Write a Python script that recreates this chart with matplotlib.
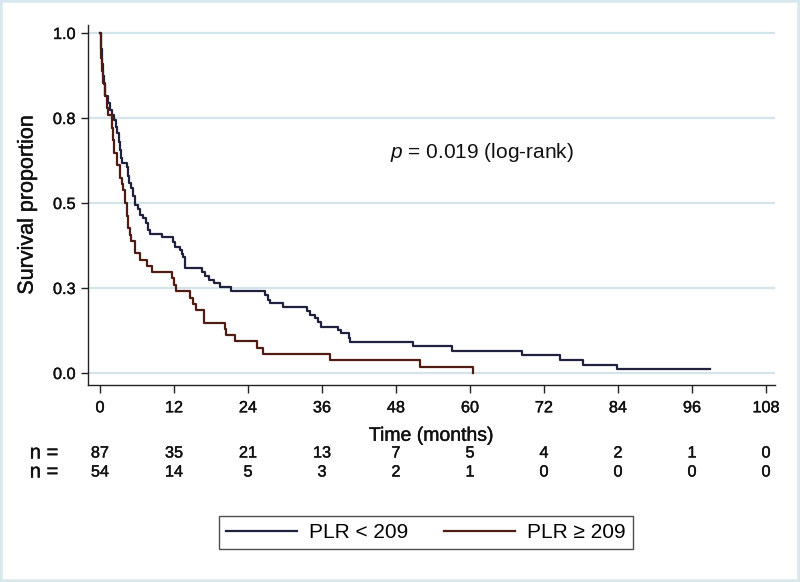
import matplotlib
matplotlib.use("Agg")
import matplotlib.pyplot as plt
from matplotlib.patches import Rectangle
from matplotlib.lines import Line2D
from matplotlib.transforms import blended_transform_factory
import matplotlib.patheffects as pe

plt.rcParams['font.family'] = ['Liberation Sans', 'DejaVu Sans']
plt.rcParams['mathtext.fontset'] = 'custom'
plt.rcParams['mathtext.it'] = 'Liberation Sans:italic'
plt.rcParams['mathtext.rm'] = 'Liberation Sans'

# ---- data ----
low_times = [0.0, 0.1, 0.2, 0.3, 0.4, 0.5, 0.6, 0.8, 1.3, 1.6, 2.0, 2.3, 2.6, 2.8,
             3.0, 3.2, 3.4, 3.6, 4.3, 4.5, 4.7, 5.1, 5.4, 5.7, 6.1, 6.5, 7.0, 7.5,
             7.8, 8.1, 10.0, 11.9, 12.2, 13.0, 13.3, 13.5, 13.8, 16.5, 17.0, 17.6,
             18.5, 19.5, 21.3, 26.8, 27.3, 27.6, 29.6, 33.5, 34.0, 34.9, 35.4, 35.9,
             38.6, 39.0, 40.3, 40.6, 50.8, 57.0, 68.5, 74.6, 78.4, 83.9, 98.9]
low_surv = [1.0, 0.977, 0.954, 0.931, 0.908, 0.874, 0.851, 0.816, 0.793, 0.774, 0.758,
            0.744, 0.724, 0.705, 0.678, 0.655, 0.632, 0.617, 0.605, 0.580, 0.558, 0.545,
            0.520, 0.494, 0.482, 0.465, 0.455, 0.440, 0.420, 0.408, 0.399, 0.386, 0.372,
            0.362, 0.350, 0.342, 0.308, 0.297, 0.285, 0.274, 0.264, 0.252, 0.240, 0.228,
            0.216, 0.205, 0.195, 0.182, 0.171, 0.161, 0.149, 0.136, 0.126, 0.117, 0.104,
            0.090, 0.078, 0.065, 0.052, 0.038, 0.025, 0.011, 0.011]

high_times = [0.0, 0.1, 0.2, 0.3, 0.5, 0.8, 1.1, 1.35, 1.9, 2.1, 2.2, 2.7, 3.2, 3.6,
              3.8, 4.1, 4.3, 4.6, 4.8, 5.1, 5.7, 6.5, 7.6, 8.4, 11.6, 12.0, 12.3, 14.6,
              15.1, 15.5, 16.8, 16.9, 20.3, 20.4, 21.9, 25.4, 26.5, 37.3, 51.9, 60.5]
high_surv = [1.0, 0.963, 0.926, 0.889, 0.852, 0.815, 0.778, 0.759, 0.722, 0.685, 0.648,
             0.611, 0.574, 0.556, 0.537, 0.500, 0.463, 0.426, 0.407, 0.389, 0.352, 0.333,
             0.315, 0.296, 0.278, 0.259, 0.241, 0.222, 0.204, 0.185, 0.167, 0.148, 0.130,
             0.111, 0.093, 0.074, 0.056, 0.037, 0.019, 0.0]

x_ticks = [0, 12, 24, 36, 48, 60, 72, 84, 96, 108]
y_ticks = [0.0, 0.25, 0.5, 0.75, 1.0]
y_tick_labels = ["0.0", "0.3", "0.5", "0.8", "1.0"]
risk_low = [87, 35, 21, 13, 7, 5, 4, 2, 1, 0]
risk_high = [54, 14, 5, 3, 2, 1, 0, 0, 0, 0]
labels = ["PLR < 209", "PLR \u2265 209"]
colors = ["#20203f", "#4f1c14"]

# ---- figure ----
W, H = 800, 582
fig = plt.figure(figsize=(W / 100, H / 100), dpi=100)
fig.patch.set_facecolor("white")

heavy = [pe.withStroke(linewidth=0.3, foreground="#111111")]

ax = fig.add_axes([88 / W, 1 - 385 / H, (775 - 88) / W, (385 - 25) / H])
ax.set_xlim(-12 / 6.1667, 675 / 6.1667)
ax.set_ylim(-12 / 340, 1 + 8 / 340)

for yt in y_ticks:
    ax.axhline(yt, color="#d3e5ea", lw=1.6, zorder=1)

ax.step(low_times, low_surv, where="post", color=colors[0], lw=1.6, zorder=3)
ax.step(high_times, high_surv, where="post", color=colors[1], lw=1.6, zorder=3)

ax.spines["top"].set_visible(False)
ax.spines["right"].set_visible(False)
ax.spines["left"].set_color("#222222")
ax.spines["bottom"].set_color("#222222")
ax.spines["left"].set_linewidth(1.0)
ax.spines["bottom"].set_linewidth(1.0)

ax.set_xticks(x_ticks)
ax.set_xticklabels([str(v) for v in x_ticks], fontsize=11.7, color="#111111")
ax.set_yticks(y_ticks)
ax.set_yticklabels(y_tick_labels, fontsize=11.7, color="#111111")
for lab in ax.get_xticklabels() + ax.get_yticklabels():
    lab.set_path_effects(heavy)
ax.tick_params(axis="x", length=6, width=1, pad=5, color="#222222")
ax.tick_params(axis="y", length=5, width=1, pad=4, color="#222222")

xl = ax.set_xlabel("Time (months)", fontsize=14, labelpad=9, color="#111111")
yl = ax.set_ylabel("Survival proportion", fontsize=15.5, labelpad=11, color="#111111")
xl.set_path_effects(heavy)
yl.set_path_effects(heavy)

ax.text(47.0, 0.65, r"$p$ = 0.019 (log-rank)", fontsize=15, ha="left", va="center",
        color="#111111")

# numbers at risk
tr = blended_transform_factory(ax.transData, fig.transFigure)
for row_y, vals in [(453, risk_low), (472, risk_high)]:
    t = fig.text(44 / W, 1 - row_y / H, "n =", fontsize=14.5, ha="center", va="center",
                 color="#111111")
    t.set_path_effects(heavy)
    for xt, v in zip(x_ticks, vals):
        t = ax.text(xt, 1 - row_y / H, str(v), transform=tr, fontsize=11.7,
                    ha="center", va="center", clip_on=False, color="#111111")
        t.set_path_effects(heavy)

handles = [Line2D([], [], color=c, lw=1.6) for c in colors]
fig.legend(handles, labels, loc="center", bbox_to_anchor=(426 / W, 1 - 532.5 / H),
           ncol=2, fontsize=15, frameon=True, fancybox=False, edgecolor="#222222",
           handlelength=3.4, handletextpad=0.6, columnspacing=1.7, borderpad=0.35)
leg = fig.legends[0]
leg.get_frame().set_linewidth(1.0)

fig.patches.append(Rectangle((0, 0), 1, 1, transform=fig.transFigure, fill=False,
                             edgecolor="#d9e8ed", lw=4, zorder=10))

fig.savefig("out.png", dpi=100)
